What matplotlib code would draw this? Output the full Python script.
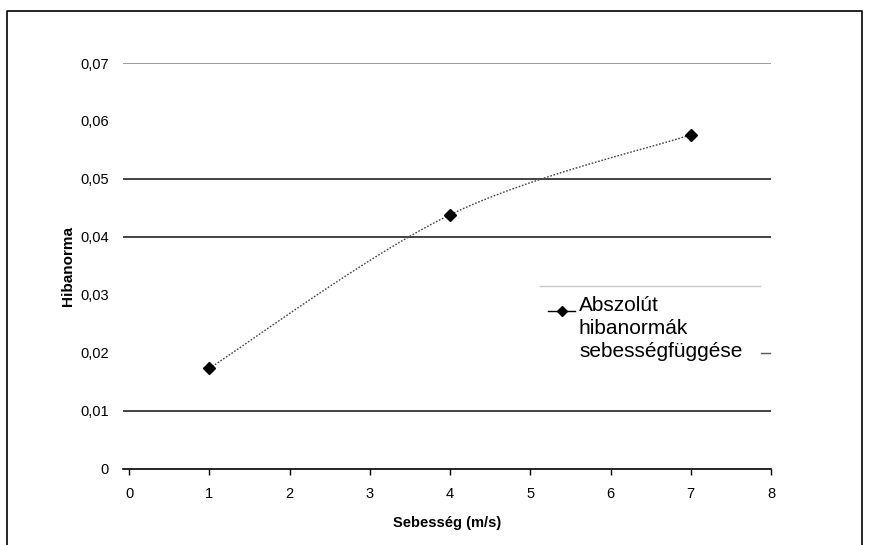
import numpy as np
import matplotlib
matplotlib.use('Agg')
import matplotlib.pyplot as plt
from matplotlib.lines import Line2D

plt.rcParams['font.family'] = ['Liberation Sans', 'DejaVu Sans']

# data
speed = [1, 4, 7]
error_norm = [0.0173, 0.0438, 0.0576]
series_label = 'Abszolút\nhibanormák\nsebességfüggése'
xticks = [0, 1, 2, 3, 4, 5, 6, 7, 8]
yticks = [0, 0.01, 0.02, 0.03, 0.04, 0.05, 0.06, 0.07]
ytick_labels = ['0', '0,01', '0,02', '0,03', '0,04', '0,05', '0,06', '0,07']
# gridlines that are actually visible in the scan (value, colour)
grid_lines = [(0.01, '#222222'), (0.04, '#222222'), (0.05, '#222222'), (0.07, '#8a8a8a')]


def smooth(xs, ys, n=40):
    # Catmull-Rom style smoothing, like a spreadsheet "smoothed line"
    p = np.column_stack([xs, ys]).astype(float)
    p = np.vstack([p[0], p, p[-1]])
    out = []
    t = np.linspace(0, 1, n)[:, None]
    for i in range(1, len(p) - 2):
        p0, p1, p2, p3 = p[i - 1], p[i], p[i + 1], p[i + 2]
        c1 = p1 + (p2 - p0) / 6
        c2 = p2 - (p3 - p1) / 6
        seg = ((1 - t) ** 3) * p1 + 3 * ((1 - t) ** 2) * t * c1 + 3 * (1 - t) * t ** 2 * c2 + t ** 3 * p2
        out.append(seg)
    out = np.vstack(out)
    return out[:, 0], out[:, 1]


W, H = 869, 545
fig = plt.figure(figsize=(W / 100, H / 100), dpi=100)
ax = fig.add_axes([123 / W, 1 - 468.5 / H, (771 - 123) / W, (468.5 - 63) / H])

for val, col in grid_lines:
    ax.axhline(val, color=col, lw=1.2, zorder=1)

sx, sy = smooth(speed, error_norm)
ax.plot(sx, sy, color='#444444', lw=1.0, ls=(0, (1.2, 1.2)), zorder=2)
ax.plot(speed, error_norm, ls='none', marker='D', ms=6, color='black', zorder=3)

ax.set_xlim(-0.075, 8)
ax.set_ylim(0, 0.07)
ax.set_xticks(xticks)
ax.set_xticklabels([str(v) for v in xticks])
ax.set_yticks(yticks)
ax.set_yticklabels(ytick_labels)
for s in ['top', 'right', 'left']:
    ax.spines[s].set_visible(False)
ax.spines['bottom'].set_color('black')
ax.spines['bottom'].set_linewidth(1.2)
ax.tick_params(axis='x', direction='out', length=4, width=1, pad=9, labelsize=10.5)
ax.tick_params(axis='y', length=0, pad=10, labelsize=10.5)
ax.set_xlabel('Sebesség (m/s)', fontsize=10.5, fontweight='bold', labelpad=11)
ax.set_ylabel('Hibanorma', fontsize=11, fontweight='bold', labelpad=4)

# legend drawn by hand so the handle sits on the first line
fig.add_artist(Line2D([540 / W, 760 / W], [1 - 286 / H, 1 - 286 / H], color='#c8c8c8', lw=1))
fig.add_artist(Line2D([548 / W, 575 / W], [1 - 311 / H, 1 - 311 / H], color='black', lw=1))
fig.add_artist(Line2D([561.5 / W], [1 - 311 / H], marker='D', ms=5, color='black', ls='none'))
fig.text(579 / W, 1 - 296 / H, series_label, fontsize=15, va='top', ha='left', linespacing=1.28)
fig.add_artist(Line2D([761 / W, 770 / W], [1 - 353 / H, 1 - 353 / H], color='#555555', lw=1))

# outer chart border
fig.add_artist(Line2D([7 / W, 7 / W, 862 / W, 862 / W], [0, 1 - 11 / H, 1 - 11 / H, 0], color='black', lw=1.2))

fig.savefig('out.png', dpi=100)
